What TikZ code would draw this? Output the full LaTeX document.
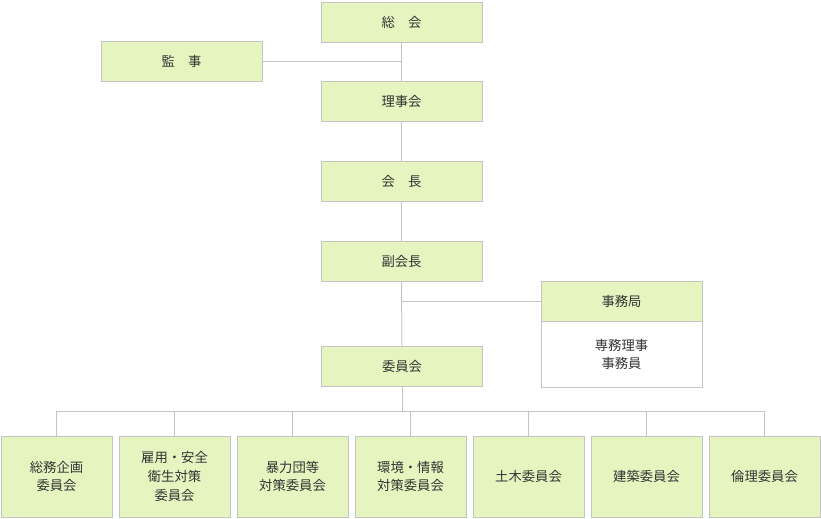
\documentclass[tikz,border=0pt]{standalone}
\usepackage{fontspec}
\setmainfont{Noto Sans CJK JP}
\usetikzlibrary{positioning}
\definecolor{boxfill}{HTML}{E6F5C0}
\definecolor{boxline}{HTML}{C4C4C4}
\definecolor{txt}{HTML}{333333}

\begin{document}
\begin{tikzpicture}[x=0.75pt, y=-0.75pt, every node/.style={draw=boxline, fill=boxfill, text=txt, inner sep=0pt, align=center, font=\fontsize{10}{14}\selectfont},
  unit/.style={minimum width=120.75pt, minimum height=30pt},
  cttee/.style={minimum width=83.25pt, minimum height=60.75pt},
  link/.style={draw=boxline, line width=0.75pt}]

\useasboundingbox (0,0) rectangle (821,518);

  % Upper chain
  \node (general) [unit] at (401.5,22) {総\quad 会};
  \node (auditor) [unit] at (181.5,61.5) {監\quad 事};
  \node (board) [unit] at (401.5,101.5) {理事会};
  \node (chair) [unit] at (401.5,181.5) {会\quad 長};
  \node (vice) [unit] at (401.5,261.5) {副会長};
  \node (office) [unit] at (621.5,301) {事務局};
  \node (staff) [minimum width=120.75pt, minimum height=49.5pt, fill=white, below=0pt of office] {専務理事\\事務員};
  \node (council) [unit] at (402,366.5) {委員会};

  \coordinate (audj) at (401.5,61.5);
  \coordinate (offj) at (401.5,301);
  \draw[link] (general) -- (board);
  \draw[link] (auditor) -- (audj);
  \draw[link] (board) -- (chair);
  \draw[link] (chair) -- (vice);
  \draw[link] (vice) -- (council);
  \draw[link] (office) -- (offj);

  % Committees
  \coordinate (bus) at (402,411);
  \draw[link] (council) -- (bus);
  \foreach \name/\label [count=\i from 0] in {soumu/総務企画\\委員会, koyou/雇用・安全\\衛生対策\\委員会, bouryoku/暴力団等\\対策委員会, kankyou/環境・情報\\対策委員会, doboku/土木委員会, kenchiku/建築委員会, rinri/倫理委員会} {
    \node (\name) [cttee] at (56.5+118*\i,476.5) {\label};
    \coordinate (\name top) at (56.5+118*\i,411);
    \draw[link] (\name top) -- (\name);
  }
  \draw[link] (soumutop) -- (rinritop);

\end{tikzpicture}
\end{document}
